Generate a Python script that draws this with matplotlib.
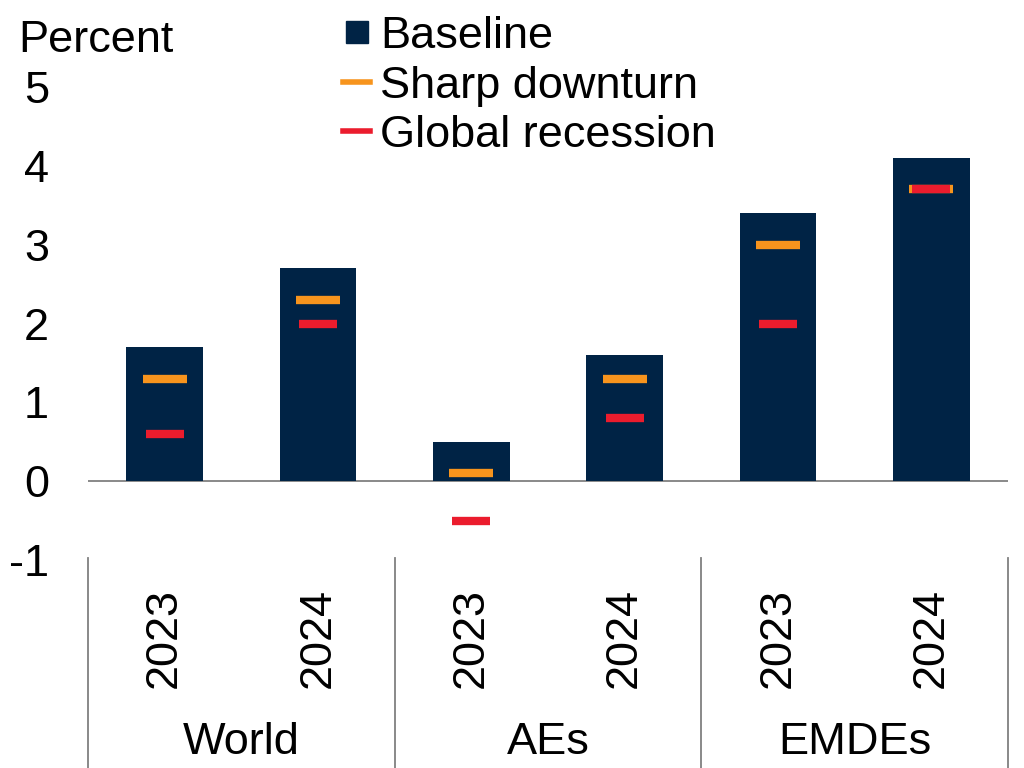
import matplotlib.pyplot as plt
from matplotlib.lines import Line2D
from matplotlib.transforms import blended_transform_factory

plt.rcParams['font.family'] = ['Liberation Sans', 'DejaVu Sans']

groups = ["World", "AEs", "EMDEs"]
years = ["2023", "2024"]
baseline = [1.7, 2.7, 0.5, 1.6, 3.4, 4.1]
sharp_downturn = [1.3, 2.3, 0.1, 1.3, 3.0, 3.7]
global_recession = [0.6, 2.0, -0.5, 0.8, 2.0, 3.7]

navy = '#002345'
orange = '#F7941D'
red = '#EB1C2D'
fs = 32.5

fig = plt.figure(figsize=(10.24, 7.68), dpi=100)
ax = fig.add_axes([88/1024, 1-560/768, 920/1024, 473/768])

x = list(range(len(baseline)))
ax.bar(x, baseline, width=0.5, color=navy, zorder=2)
ax.plot(x, sharp_downturn, linestyle='none', marker='_', markersize=31,
        markeredgewidth=6, color=orange, zorder=3)
ax.plot(x, global_recession, linestyle='none', marker='_', markersize=27,
        markeredgewidth=6, color=red, zorder=4)

ax.axhline(0, color='#808080', lw=1.3, zorder=1)
ax.set_xlim(-0.5, len(baseline) - 0.5)
ax.set_ylim(-1, 5)
ax.set_yticks(range(-1, 6))
ax.set_yticklabels([str(v) for v in range(-1, 6)])
ax.tick_params(axis='y', length=0, labelsize=fs, pad=28)
ax.set_xticks([])
for s in ax.spines.values():
    s.set_visible(False)

# category axis below the plot
tr = blended_transform_factory(ax.transData, fig.transFigure)
for i in range(len(groups) + 1):
    ax.plot([2*i - 0.5, 2*i - 0.5], [1-558/768, 0], transform=tr,
            color='#808080', lw=1.3, clip_on=False)
for i, xi in enumerate(x):
    fig.text(xi, 1-638/768, years[i % 2], transform=tr, rotation=90,
             ha='center', va='center', fontsize=fs)
for g, name in enumerate(groups):
    fig.text(2*g + 0.5, 1-742/768, name, transform=tr,
             ha='center', va='center', fontsize=fs)

fig.text(18/1024, 1-40/768, "Percent", ha='left', va='center', fontsize=fs)

handles = [
    Line2D([], [], linestyle='none', marker='s', markersize=16, color=navy),
    Line2D([], [], color=orange, lw=4),
    Line2D([], [], color=red, lw=4),
]
fig.legend(handles, ["Baseline", "Sharp downturn", "Global recession"],
           loc='upper left', bbox_to_anchor=(343/1024, 1-16/768), frameon=False,
           fontsize=fs, handlelength=0.6, handletextpad=0.22, labelspacing=0.19,
           borderaxespad=0, borderpad=0)

fig.savefig("out.png")
